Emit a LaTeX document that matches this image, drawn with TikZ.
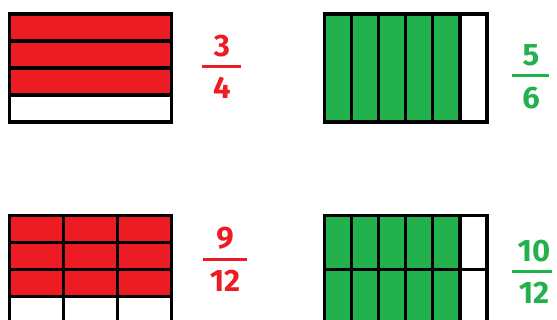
\documentclass[tikz,border=0pt]{standalone}
\usepackage{fontspec}
\setmainfont{Fira Sans}
\definecolor{fracred}{HTML}{ED1C24}
\definecolor{fracgreen}{HTML}{22B14C}

\begin{document}
\begin{tikzpicture}[x=1pt, y=-1pt, line width=3.6pt,
  digit/.style={font=\fontsize{31}{31}\selectfont\bfseries, inner sep=0pt},
  bar/.style={line width=3pt}]
  \useasboundingbox (0,0) rectangle (557,320);
  \clip (0,0) rectangle (557,320);

  % 3/4 : four strips, three shaded
  \fill[fracred] (9.5,14) rectangle (171.5,95);
  \foreach \y in {41,68,95}
    \draw (9.5,\y) -- (171.5,\y);
  \draw (9.5,14) rectangle (171.5,122);

  % 5/6 : six columns, five shaded
  \fill[fracgreen] (324.5,14) rectangle (460,122);
  \foreach \x in {351.5,378.5,405.5,432.5,460}
    \draw (\x,14) -- (\x,122);
  \draw (324.5,14) rectangle (487,122);

  % 9/12 : the same strips cut in three
  \fill[fracred] (9.5,215.5) rectangle (171.5,296.5);
  \foreach \y in {242.5,269.5,296.5}
    \draw (9.5,\y) -- (171.5,\y);
  \foreach \x in {63.5,117.5}
    \draw (\x,215.5) -- (\x,323.5);
  \draw (9.5,215.5) rectangle (171.5,323.5);

  % 10/12 : the same columns cut in two
  \fill[fracgreen] (324.5,215.5) rectangle (460,323.5);
  \foreach \x in {351.5,378.5,405.5,432.5,460}
    \draw (\x,215.5) -- (\x,323.5);
  \draw (324.5,269.5) -- (487,269.5);
  \draw (324.5,215.5) rectangle (487,323.5);

  % fractions
  \node[digit, text=fracred] (num34) at (222,46) {3};
  \node[digit, text=fracred] (den34) at (222,88) {4};
  \coordinate (bar34) at (221.5,67);
  \draw[bar, fracred] ([xshift=-19.5pt]bar34) -- ([xshift=19.5pt]bar34);

  \node[digit, text=fracgreen] (num56) at (531,55) {5};
  \node[digit, text=fracgreen] (den56) at (531,98) {6};
  \coordinate (bar56) at (530.5,76);
  \draw[bar, fracgreen] ([xshift=-18.5pt]bar56) -- ([xshift=18.5pt]bar56);

  \node[digit, text=fracred] (num912) at (225,238) {9};
  \node[digit, text=fracred] (den912) at (225,281) {12};
  \coordinate (bar912) at (225,260);
  \draw[bar, fracred] ([xshift=-22pt]bar912) -- ([xshift=22pt]bar912);

  \node[digit, text=fracgreen] (num1012) at (534,251) {10};
  \node[digit, text=fracgreen] (den1012) at (534,292.5) {12};
  \coordinate (bar1012) at (532,272);
  \draw[bar, fracgreen] ([xshift=-20pt]bar1012) -- ([xshift=20pt]bar1012);
\end{tikzpicture}
\end{document}
